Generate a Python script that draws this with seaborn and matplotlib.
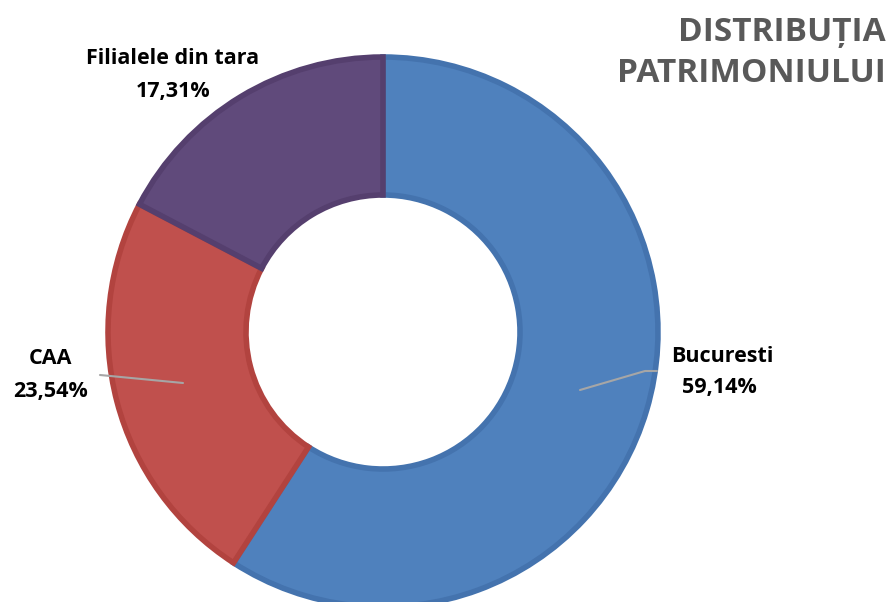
import matplotlib.pyplot as plt
import seaborn as sns

# date
categorii = ["Bucuresti", "CAA", "Filialele din tara"]
valori = [59.14, 23.54, 17.31]
etichete = ["59,14%", "23,54%", "17,31%"]
culori = ["#4F81BD", "#C0504D", "#604A7B"]
margini = ["#4473AE", "#B2433F", "#553F6E"]

sns.set_theme(style="white")
plt.rcParams['font.family'] = ['Open Sans', 'DejaVu Sans']

W, H = 890, 602
fig = plt.figure(figsize=(W / 100, H / 100), dpi=100)
ax = fig.add_axes([0, 0, 1, 1])

cx, cy, r = 383, H - 332, 275
wedges, _ = ax.pie(valori, colors=culori, startangle=90, counterclock=False,
                   center=(cx, cy), radius=r,
                   wedgeprops=dict(width=138, linewidth=4))
for w, m in zip(wedges, margini):
    w.set_edgecolor(m)

ax.set_xlim(0, W)
ax.set_ylim(0, H)
ax.set_aspect('equal')
ax.axis('off')

# linii de legatura
ax.plot([580, 645, 657], [H - 390, H - 371, H - 371], color="#A6A6A6", lw=1.5)
ax.plot([183, 100], [H - 383, H - 375], color="#A6A6A6", lw=1.5)

stil = dict(fontsize=15.5, fontweight='bold', color='black', ha='center', va='center')
ax.text(722, H - 356, categorii[0], **stil)
ax.text(719, H - 388, etichete[0], **stil)
ax.text(51, H - 358, categorii[1], **stil)
ax.text(51, H - 392, etichete[1], **stil)
ax.text(173, H - 59, categorii[2], **stil)
ax.text(173, H - 91, etichete[2], **stil)

titlu = dict(fontsize=24, fontweight='bold', color='#595959', ha='right', va='center')
ax.text(886, H - 32, "DISTRIBUȚIA", **titlu)
ax.text(886, H - 73, "PATRIMONIULUI", **titlu)

fig.savefig("out.png", dpi=100)
